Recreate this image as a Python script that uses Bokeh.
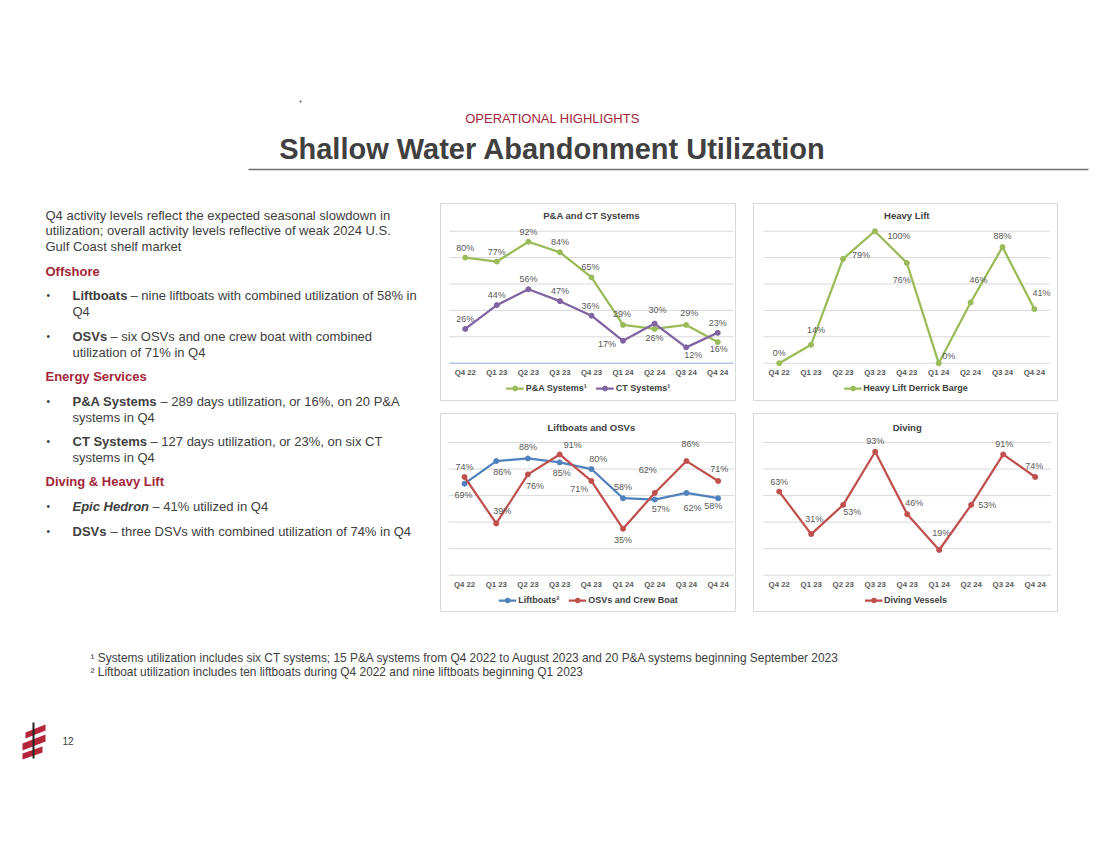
from bokeh.plotting import figure
from bokeh.models import (ColumnDataSource, Range1d, LabelSet, Label, Legend,
                          LegendItem, Spacer)
from bokeh.layouts import column, row
from bokeh.embed import file_html
from bokeh.resources import INLINE
from bokeh.core.properties import value

# ---------------- data ----------------
quarters = ["Q4 22", "Q1 23", "Q2 23", "Q3 23", "Q4 23", "Q1 24", "Q2 24", "Q3 24", "Q4 24"]
pa_systems = [80, 77, 92, 84, 65, 29, 26, 29, 16]
ct_systems = [26, 44, 56, 47, 36, 17, 30, 12, 23]
heavy_lift = [0, 14, 79, 100, 76, 0, 46, 88, 41]
liftboats = [69, 86, 88, 85, 80, 58, 57, 62, 58]
osvs_crew = [74, 39, 76, 91, 71, 35, 62, 86, 71]
diving = [63, 31, 53, 93, 46, 19, 53, 91, 74]
grid_ticks = [20, 40, 60, 80, 100]

# data-label placement (screen px: dx right, dy up)
pa_lab = [(0, 10), (0, 10), (0, 10), (0, 10), (-1, 10), (-1, 11), (0, -9), (3, 12), (1, -7)]
ct_lab = [(0, 10), (0, 10), (0, 10), (0, 10), (-1, 10), (-16, -3), (3, 14), (7, -8), (0, 10)]
hl_lab = [(0, 10), (5, 15), (18, 4), (24, -5), (-5, -17), (10, 7), (8, 22), (0, 11), (7, 16)]
lb_lab = [(-1, -11), (6, -11), (0, 11), (2, -11), (7, 10), (0, 11), (6, -9), (6, -15), (-5, -8)]
osv_lab = [(0, 10), (6, 12), (7, -12), (13, 9), (-12, -8), (0, -11), (-7, 23), (4, 17), (1, 12)]
dv_lab = [(0, 10), (3, 15), (9, -7), (0, 11), (7, 11), (2, 17), (16, 0), (1, 10), (-1, 11)]

GREEN = "#9BBB59"
PURPLE = "#8064A2"
BLUE = "#4F81BD"
RED = "#C0504D"
FONT = "Liberation Sans"
DARK = "#404040"
LBL = "#595959"
BRAND = "#A32638"


def make_chart(title, series, w, h, padl, padr, y100, y0, zero_color, leg_margin):
    """w,h: chart box; padl/padr: px from box edge to plot area; y100/y0: px from box top
    of the 100% and 0% lines."""
    n = len(quarters)
    idx = list(range(n))
    sx = (w - padl - padr) / n
    sy = (y0 - y100) / 100.0
    p = figure(width=w, height=h,
               x_range=Range1d(-0.5 - padl / sx, n - 0.5 + padr / sx),
               y_range=Range1d(-(h - y0) / sy, 100 + y100 / sy),
               output_backend="svg", toolbar_location=None,
               x_axis_location=None, y_axis_location=None, min_border=0,
               outline_line_color="#d9d9d9", background_fill_color="white",
               border_fill_color="white")
    for g in p.grid:
        g.visible = False
    # horizontal gridlines across the plot area
    p.segment(x0=[-0.5] * len(grid_ticks), x1=[n - 0.5] * len(grid_ticks),
              y0=grid_ticks, y1=grid_ticks, line_color="#d9d9d9", line_width=1)
    p.segment(x0=[-0.5], x1=[n - 0.5], y0=[0], y1=[0], line_color=zero_color, line_width=1)
    # category labels
    cat_src = ColumnDataSource(dict(x=idx, y=[0] * n, text=quarters))
    p.add_layout(LabelSet(x="x", y="y", text="text", source=cat_src, y_offset=-9.5,
                          text_align="center", text_baseline="middle",
                          text_font=value(FONT), text_font_size="7.8px",
                          text_font_style="bold", text_color=LBL))
    # title
    p.add_layout(Label(x=(n - 1) / 2, y=100, y_offset=15.5, text=title,
                       text_align="center", text_baseline="middle", text_font=FONT,
                       text_font_size="9.5px", text_font_style="bold", text_color=DARK))

    items = []
    for name, vals, color, offs in series:
        src = ColumnDataSource(dict(x=idx, y=vals, text=[f"{v}%" for v in vals],
                                    dx=[o[0] for o in offs], dy=[o[1] for o in offs]))
        r1 = p.line("x", "y", source=src, line_color=color, line_width=2.25)
        r2 = p.scatter("x", "y", source=src, marker="circle", size=5,
                       fill_color=color, line_color=color)
        items.append(LegendItem(label=name, renderers=[r1, r2]))
        p.add_layout(LabelSet(x="x", y="y", text="text", x_offset="dx", y_offset="dy",
                              source=src, text_align="center", text_baseline="middle",
                              text_font=value(FONT), text_font_size="9px",
                              text_color=LBL))
    leg = Legend(items=items, orientation="horizontal", location="bottom",
                 label_text_font=FONT, label_text_font_size="9px",
                 label_text_font_style="bold", label_text_color=DARK,
                 border_line_color=None, background_fill_alpha=0,
                 glyph_width=18, glyph_height=12, label_height=12, label_standoff=2,
                 spacing=9, padding=0, margin=leg_margin)
    p.add_layout(leg)
    return p


def canvas(w, h):
    p = figure(width=w, height=h, x_range=Range1d(0, w), y_range=Range1d(h, 0),
               output_backend="svg", toolbar_location=None,
               x_axis_location=None, y_axis_location=None, min_border=0,
               outline_line_color=None, background_fill_color="white",
               border_fill_color="white")
    for g in p.grid:
        g.visible = False
    return p


def txt(p, x, y, s, size, color=DARK, style="normal", align="left"):
    p.text(x=[x], y=[y], text=[s], text_font=value(FONT), text_font_size=size,
           text_font_style=style, text_color=color, text_align=align,
           text_baseline="middle")


# ---------------- header (page coords: y 0..203) ----------------
hdr = canvas(1092, 203)
txt(hdr, 552, 118, "OPERATIONAL HIGHLIGHTS", "13px", BRAND, align="center")
txt(hdr, 552, 148, "Shallow Water Abandonment Utilization", "29px", DARK, "bold", align="center")
hdr.segment(x0=[248], y0=[169], x1=[1088], y1=[169], line_color="#6f6f6f", line_width=1.5)
hdr.scatter(x=[300], y=[101], size=1.5, color="#808080")

# ---------------- left text (page x 0..440, y 203..612) ----------------
lt = canvas(440, 409)
OY = 203
plain = [
    (45, 215, "Q4 activity levels reflect the expected seasonal slowdown in"),
    (45, 230, "utilization; overall activity levels reflective of weak 2024 U.S."),
    (45, 246, "Gulf Coast shelf market"),
    (130, 295, "– nine liftboats with combined utilization of 58% in"),
    (72, 311, "Q4"),
    (110, 336, "– six OSVs and one crew boat with combined"),
    (72, 352, "utilization of 71% in Q4"),
    (160, 401, "– 289 days utilization, or 16%, on 20 P&A"),
    (72, 417, "systems in Q4"),
    (150, 441, "– 127 days utilization, or 23%, on six CT"),
    (72, 457, "systems in Q4"),
    (152, 506, "– 41% utilized in Q4"),
    (110, 531, "– three DSVs with combined utilization of 74% in Q4"),
]
for x, y, s in plain:
    txt(lt, x, y - OY, s, "13px")
for x, y, s in [(45, 271, "Offshore"), (45, 376, "Energy Services"), (45, 481, "Diving & Heavy Lift")]:
    txt(lt, x, y - OY, s, "13px", BRAND, "bold")
for x, y, s in [(72, 295, "Liftboats"), (72, 336, "OSVs"), (72, 401, "P&A Systems"),
                (72, 441, "CT Systems"), (72, 531, "DSVs")]:
    txt(lt, x, y - OY, s, "13px", DARK, "bold")
txt(lt, 72, 506 - OY, "Epic Hedron", "13px", DARK, "bold italic")
for y in [295, 336, 401, 441, 506, 531]:
    txt(lt, 46, y - OY, "•", "10px")

# ---------------- charts ----------------
c1 = make_chart("P&A and CT Systems",
                [("P&A Systems¹", pa_systems, GREEN, pa_lab),
                 ("CT Systems¹", ct_systems, PURPLE, ct_lab)],
                296, 198, 9, 3, 27.7, 159.7, "#8FAADC", 7)
c2 = make_chart("Heavy Lift",
                [("Heavy Lift Derrick Barge", heavy_lift, GREEN, hl_lab)],
                305, 198, 9.75, 8.15, 27.7, 159.7, "#d9d9d9", 7)
c3 = make_chart("Liftboats and OSVs",
                [("Liftboats²", liftboats, BLUE, lb_lab),
                 ("OSVs and Crew Boat", osvs_crew, RED, osv_lab)],
                296, 199, 8.2, 2.5, 29, 161.7, "#d9d9d9", 6)
c4 = make_chart("Diving",
                [("Diving Vessels", diving, RED, dv_lab)],
                305, 199, 9.7, 7.3, 29, 161.7, "#d9d9d9", 6)

charts = column(row(c1, Spacer(width=17, height=198), c2),
                Spacer(width=618, height=12),
                row(c3, Spacer(width=17, height=199), c4))

# ---------------- footer (page y 612..849) ----------------
ft = canvas(1092, 237)
FY = 612
txt(ft, 90, 657 - FY, "¹ Systems utilization includes six CT systems; 15 P&A systems from Q4 2022 to August 2023 and 20 P&A systems beginning September 2023", "11.9px")
txt(ft, 90, 671 - FY, "² Liftboat utilization includes ten liftboats during Q4 2022 and nine liftboats beginning Q1 2023", "11.9px")
# logo
ft.patches(xs=[[25, 45, 45, 25], [22, 45, 45, 22], [22, 42, 42, 22]],
           ys=[[120, 112, 118, 126], [131, 122, 129, 138], [141, 134, 140, 147]],
           fill_color="#B5253A", line_color=None)
ft.segment(x0=[33], y0=[110], x1=[33], y1=[146], line_color="#222222", line_width=2)
txt(ft, 62, 740 - FY, "12", "10px", DARK)

layout = column(hdr, row(lt, charts, Spacer(width=34, height=409)), ft)

open("out.html", "w").write(file_html(layout, INLINE))
